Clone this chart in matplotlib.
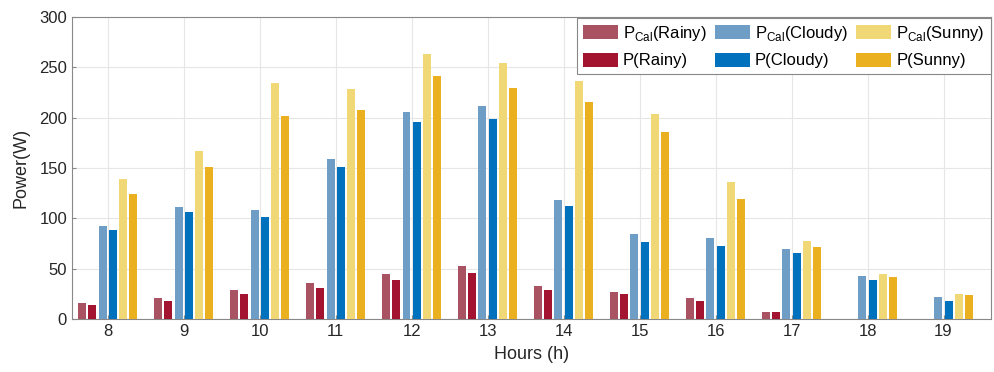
import numpy as np
import matplotlib.pyplot as plt

plt.rcParams['font.family'] = ['Liberation Sans', 'DejaVu Sans']
plt.rcParams['mathtext.fontset'] = 'custom'
plt.rcParams['mathtext.rm'] = 'Liberation Sans'

# data
hours = [8, 9, 10, 11, 12, 13, 14, 15, 16, 17, 18, 19]
p_cal_rainy = [16, 21, 29, 36, 45, 53, 33, 27, 21, 7, 0, 0]
p_rainy = [14, 18, 25, 31, 39, 46, 29, 25, 18, 7, 0, 0]
p_cal_cloudy = [92, 111, 108, 159, 206, 212, 118, 84, 80, 70, 43, 22]
p_cloudy = [88, 106, 101, 151, 196, 199, 112, 77, 73, 66, 39, 18]
p_cal_sunny = [139, 167, 235, 229, 263, 254, 237, 204, 136, 78, 45, 25]
p_sunny = [124, 151, 202, 208, 241, 230, 216, 186, 119, 72, 42, 24]

series = [
    (p_cal_rainy, r'P$_{\mathrm{Cal}}$(Rainy)', '#a85262'),
    (p_rainy, 'P(Rainy)', '#a2142f'),
    (p_cal_cloudy, r'P$_{\mathrm{Cal}}$(Cloudy)', '#6e9dc6'),
    (p_cloudy, 'P(Cloudy)', '#0072bd'),
    (p_cal_sunny, r'P$_{\mathrm{Cal}}$(Sunny)', '#f0d876'),
    (p_sunny, 'P(Sunny)', '#ebb020'),
]

fig = plt.figure(figsize=(9.94, 3.72), dpi=100)
ax = fig.add_axes([0.0724, 0.1425, 0.925, 0.8115])

x = np.array(hours)
pitch = 0.135
w = 0.105
handles = []
for i, (vals, lab, col) in enumerate(series):
    h = ax.bar(x + (i - 2.5) * pitch, vals, w, color=col, label=lab, zorder=3)
    handles.append(h)

ax.set_xlim(7.53, 19.63)
ax.set_ylim(0, 300)
ax.set_xticks(hours)
ax.set_yticks(range(0, 301, 50))
ax.tick_params(labelsize=12, direction='in', length=3, color='#888888', labelcolor='#262626')
ax.grid(True, color='#e6e6e6', linewidth=0.8, zorder=0)
for s in ax.spines.values():
    s.set_color('#888888')
    s.set_linewidth(0.8)
ax.set_xlabel('Hours (h)', fontsize=13, color='#262626', labelpad=5)
ax.set_ylabel('Power(W)', fontsize=13, color='#262626', labelpad=7)

leg = ax.legend(handles, [s[1] for s in series],
                ncol=3, loc='upper right', fontsize=12, frameon=True,
                fancybox=False, edgecolor='#888888', framealpha=1,
                borderaxespad=0.05, handlelength=2.1, handleheight=0.9,
                columnspacing=0.5, handletextpad=0.3, labelspacing=0.6,
                borderpad=0.35)
leg.get_frame().set_linewidth(0.8)

fig.savefig('out.png', dpi=100)
